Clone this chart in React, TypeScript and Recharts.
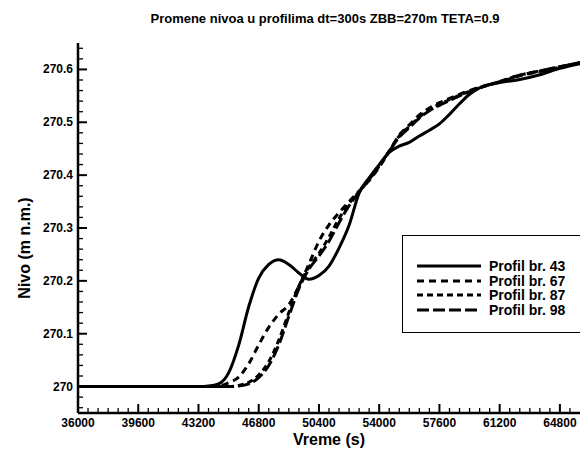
import React from 'react';
import { LineChart, Line, XAxis, YAxis, Legend } from 'recharts';

const times = [
  36000, 40000, 43200, 43800, 44400, 45000, 45600, 46200, 46800, 47400, 48000, 48600,
  49200, 49800, 50400, 51000, 51600, 52200, 52800, 53400, 54000, 54600, 55200, 55800,
  56400, 57000, 57600, 58200, 58800, 59400, 60000, 61200, 62400, 63600, 64800, 66000,
];

const profil43 = [
  270.0, 270.0, 270.0, 270.001, 270.005, 270.026, 270.078, 270.151, 270.205, 270.231, 270.24, 270.231,
  270.215, 270.203, 270.21, 270.228, 270.262, 270.305, 270.366, 270.395, 270.42, 270.443, 270.455, 270.462,
  270.474, 270.485, 270.497, 270.515, 270.535, 270.553, 270.565, 270.575, 270.581, 270.59, 270.602, 270.611,
];

const profil67 = [
  270.0, 270.0, 270.0, 270.0, 270.001, 270.007, 270.018, 270.043, 270.079, 270.112, 270.137, 270.155,
  270.19, 270.232, 270.275, 270.306, 270.329, 270.35, 270.37, 270.39, 270.415, 270.445, 270.476, 270.495,
  270.514, 270.527, 270.537, 270.545, 270.553, 270.56, 270.566, 270.576, 270.588, 270.596, 270.604, 270.612,
];

const profil87 = [
  270.0, 270.0, 270.0, 270.0, 270.0, 270.0, 270.002, 270.008, 270.022, 270.047, 270.088, 270.14,
  270.19, 270.226, 270.252, 270.283, 270.318, 270.346, 270.369, 270.392, 270.417, 270.446, 270.474, 270.492,
  270.51, 270.524, 270.534, 270.543, 270.551, 270.559, 270.566, 270.577, 270.589, 270.597, 270.605, 270.613,
];

const profil98 = [
  270.0, 270.0, 270.0, 270.0, 270.0, 270.0, 270.001, 270.005, 270.017, 270.04, 270.079, 270.133,
  270.185, 270.222, 270.247, 270.275, 270.31, 270.342, 270.368, 270.392, 270.418, 270.445, 270.472, 270.49,
  270.508, 270.522, 270.532, 270.541, 270.55, 270.558, 270.565, 270.577, 270.589, 270.597, 270.605, 270.613,
];

const xMajorTicks = [36000, 39600, 43200, 46800, 50400, 54000, 57600, 61200, 64800];
const yMajorTicks = [270, 270.1, 270.2, 270.3, 270.4, 270.5, 270.6];

const xTicks: number[] = [];
for (let t = 36000; t <= 65400; t += 600) xTicks.push(t);
const yTicks: number[] = [];
for (let k = -2; k <= 32; k++) yTicks.push(Math.round((270 + k * 0.02) * 1000) / 1000);

const series = [
  { key: 'p43', name: 'Profil br. 43', dash: undefined as string | undefined },
  { key: 'p67', name: 'Profil br. 67', dash: '7 5' },
  { key: 'p87', name: 'Profil br. 87', dash: '6 4' },
  { key: 'p98', name: 'Profil br. 98', dash: '12 4' },
];

const data = times.map((t, i) => ({
  t,
  p43: profil43[i],
  p67: profil67[i],
  p87: profil87[i],
  p98: profil98[i],
}));

const FONT = '"Liberation Sans", Arial, Helvetica, sans-serif';

const XTick = (props: any) => {
  const { x, y, payload } = props;
  const major = xMajorTicks.includes(payload.value);
  return (
    <g>
      <line x1={x} x2={x} y1={y} y2={y - (major ? 9 : 5)} stroke="#000" strokeWidth={major ? 2 : 1.3} />
      {major && (
        <text x={x} y={y + 14} textAnchor="middle" fontFamily={FONT} fontWeight="bold" fontSize={12} fill="#000">
          {payload.value}
        </text>
      )}
    </g>
  );
};

const YTick = (props: any) => {
  const { x, y, payload } = props;
  const major = yMajorTicks.some((m) => Math.abs(m - payload.value) < 1e-6);
  return (
    <g>
      <line x1={x} x2={x + (major ? 9 : 5)} y1={y} y2={y} stroke="#000" strokeWidth={major ? 2 : 1.3} />
      {major && (
        <text x={x - 5} y={y + 4} textAnchor="end" fontFamily={FONT} fontWeight="bold" fontSize={12} fill="#000">
          {Number(payload.value.toFixed(1)).toString()}
        </text>
      )}
    </g>
  );
};

const LegendBox = () => (
  <div
    style={{
      border: '1.5px solid #000',
      width: 200,
      height: 98,
      boxSizing: 'border-box',
      padding: '23px 0 0 14px',
      background: '#fff',
    }}
  >
    {series.map((s) => (
      <div key={s.key} style={{ display: 'flex', alignItems: 'center', height: 14.5 }}>
        <svg width={64} height={6}>
          <line x1={0} y1={3} x2={64} y2={3} stroke="#000" strokeWidth={3} strokeDasharray={s.dash} />
        </svg>
        <span style={{ marginLeft: 8, fontFamily: FONT, fontWeight: 'bold', fontSize: 14, color: '#000' }}>
          {s.name}
        </span>
      </div>
    ))}
  </div>
);

export default function App() {
  return (
    <div style={{ position: 'absolute', left: 0, top: 0, width: 580, height: 449, background: '#fff', overflow: 'hidden' }}>
      <LineChart width={580} height={449} data={data} margin={{ top: 43, right: 0, left: 0, bottom: 0 }}>
        <XAxis
          dataKey="t"
          type="number"
          domain={[36000, 66000]}
          ticks={xTicks}
          interval={0}
          height={36}
          tickSize={0}
          tickMargin={0}
          tickLine={false}
          axisLine={{ stroke: '#000', strokeWidth: 2.5 }}
          tick={<XTick />}
          allowDataOverflow
        />
        <YAxis
          type="number"
          domain={[269.95, 270.65]}
          ticks={yTicks}
          interval={0}
          width={78}
          tickSize={0}
          tickMargin={0}
          tickLine={false}
          axisLine={{ stroke: '#000', strokeWidth: 2.5 }}
          tick={<YTick />}
          allowDataOverflow
        />
        <Legend
          layout="horizontal"
          verticalAlign="middle"
          content={<LegendBox />}
          wrapperStyle={{ left: 402, top: 235, width: 200 }}
        />
        {series.map((s) => (
          <Line
            key={s.key}
            type="monotone"
            dataKey={s.key}
            name={s.name}
            stroke="#000"
            strokeWidth={3}
            strokeDasharray={s.dash}
            dot={false}
            isAnimationActive={false}
          />
        ))}
      </LineChart>
      <div
        style={{
          position: 'absolute', left: 325, top: 18, transform: 'translate(-50%, -50%)',
          whiteSpace: 'nowrap', fontFamily: FONT, fontWeight: 'bold', fontSize: 13,
        }}
      >
        Promene nivoa u profilima dt=300s ZBB=270m TETA=0.9
      </div>
      <div
        style={{
          position: 'absolute', left: 25, top: 248, transform: 'translate(-50%, -50%) rotate(-90deg)',
          whiteSpace: 'nowrap', fontFamily: FONT, fontWeight: 'bold', fontSize: 16,
        }}
      >
        Nivo (m n.m.)
      </div>
      <div
        style={{
          position: 'absolute', left: 329, top: 440, transform: 'translate(-50%, -50%)',
          whiteSpace: 'nowrap', fontFamily: FONT, fontWeight: 'bold', fontSize: 16,
        }}
      >
        Vreme (s)
      </div>
    </div>
  );
}
